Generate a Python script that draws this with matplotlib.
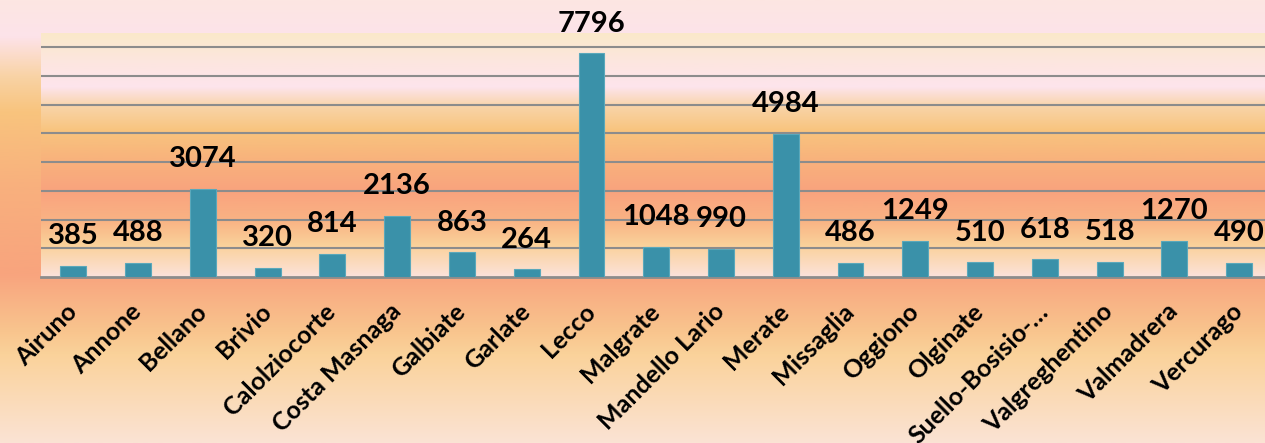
import numpy as np
import matplotlib
matplotlib.use("Agg")
import matplotlib.pyplot as plt
import matplotlib.transforms as mtransforms
from matplotlib.colors import LinearSegmentedColormap

plt.rcParams['font.family'] = ['Lato', 'DejaVu Sans']

comuni = ["Airuno", "Annone", "Bellano", "Brivio", "Calolziocorte", "Costa Masnaga",
          "Galbiate", "Garlate", "Lecco", "Malgrate", "Mandello Lario", "Merate",
          "Missaglia", "Oggiono", "Olginate", "Suello-Bosisio-…", "Valgreghentino",
          "Valmadrera", "Vercurago"]
valori = [385, 488, 3074, 320, 814, 2136, 863, 264, 7796, 1048, 990, 4984,
          486, 1249, 510, 618, 518, 1270, 490]

# gradient backgrounds (top -> bottom)
outer_cmap = LinearSegmentedColormap.from_list("outer", [
    (0.00, "#fce6e2"), (0.08, "#fde3ea"), (0.17, "#f9d3a6"), (0.25, "#f8c47e"),
    (0.42, "#f8b07d"), (0.62, "#f8a47e"), (0.75, "#f9c58e"), (0.80, "#fad29a"),
    (1.00, "#fbe3d4")])
inner_cmap = LinearSegmentedColormap.from_list("inner", [
    (0.00, "#fae9ca"), (0.12, "#fde6e0"), (0.22, "#fde4ec"), (0.30, "#f9d4a8"),
    (0.40, "#f8c47e"), (0.52, "#f8b27c"), (0.65, "#f9a37e"), (0.77, "#f9b384"),
    (0.87, "#fad19a"), (1.00, "#fce2da")])

fig = plt.figure(figsize=(12.65, 4.43), dpi=100)
grad = np.linspace(0, 1, 256).reshape(-1, 1)

bg = fig.add_axes([0, 0, 1, 1], zorder=-10)
bg.imshow(grad, aspect="auto", cmap=outer_cmap, extent=[0, 1, 0, 1], origin="upper")
bg.set_axis_off()

ax = fig.add_axes([41 / 1265, 166 / 443, 1230.5 / 1265, 244 / 443])
ax.imshow(grad, aspect="auto", cmap=inner_cmap, extent=[0, 1, 0, 1], origin="upper",
          transform=ax.transAxes, zorder=0)

x = np.arange(len(comuni))
bars = ax.bar(x, valori, width=0.4, color="#3a91a9", edgecolor="#5aa8bb",
              linewidth=0.8, zorder=3)

for xi, v in zip(x, valori):
    ax.annotate(str(v), (xi, v), xytext=(0, 12), textcoords="offset points",
                ha="center", va="bottom", fontsize=21, fontweight="bold",
                color="black", zorder=4, annotation_clip=False)

ax.set_xlim(-0.5, len(comuni) - 0.5)
ax.set_ylim(0, 8500)
ax.set_yticks(np.arange(1000, 8001, 1000))
ax.yaxis.grid(True, color="#8c8c8c", linewidth=1.5, zorder=1)
ax.set_axisbelow(True)
ax.tick_params(axis="y", left=False, labelleft=False)
ax.tick_params(axis="x", length=0, pad=26)
ax.set_xticks(x)
ax.set_xticklabels(comuni, rotation=45, ha="right", va="baseline",
                   rotation_mode="anchor", fontsize=18, fontweight="bold")
shift = mtransforms.ScaledTranslation(5 / 100, 0, fig.dpi_scale_trans)
for lab in ax.get_xticklabels():
    lab.set_transform(lab.get_transform() + shift)
for s in ["top", "right", "left"]:
    ax.spines[s].set_visible(False)
ax.spines["bottom"].set_color("#8c8c8c")
ax.spines["bottom"].set_linewidth(2)

fig.savefig("out.png", dpi=100)
